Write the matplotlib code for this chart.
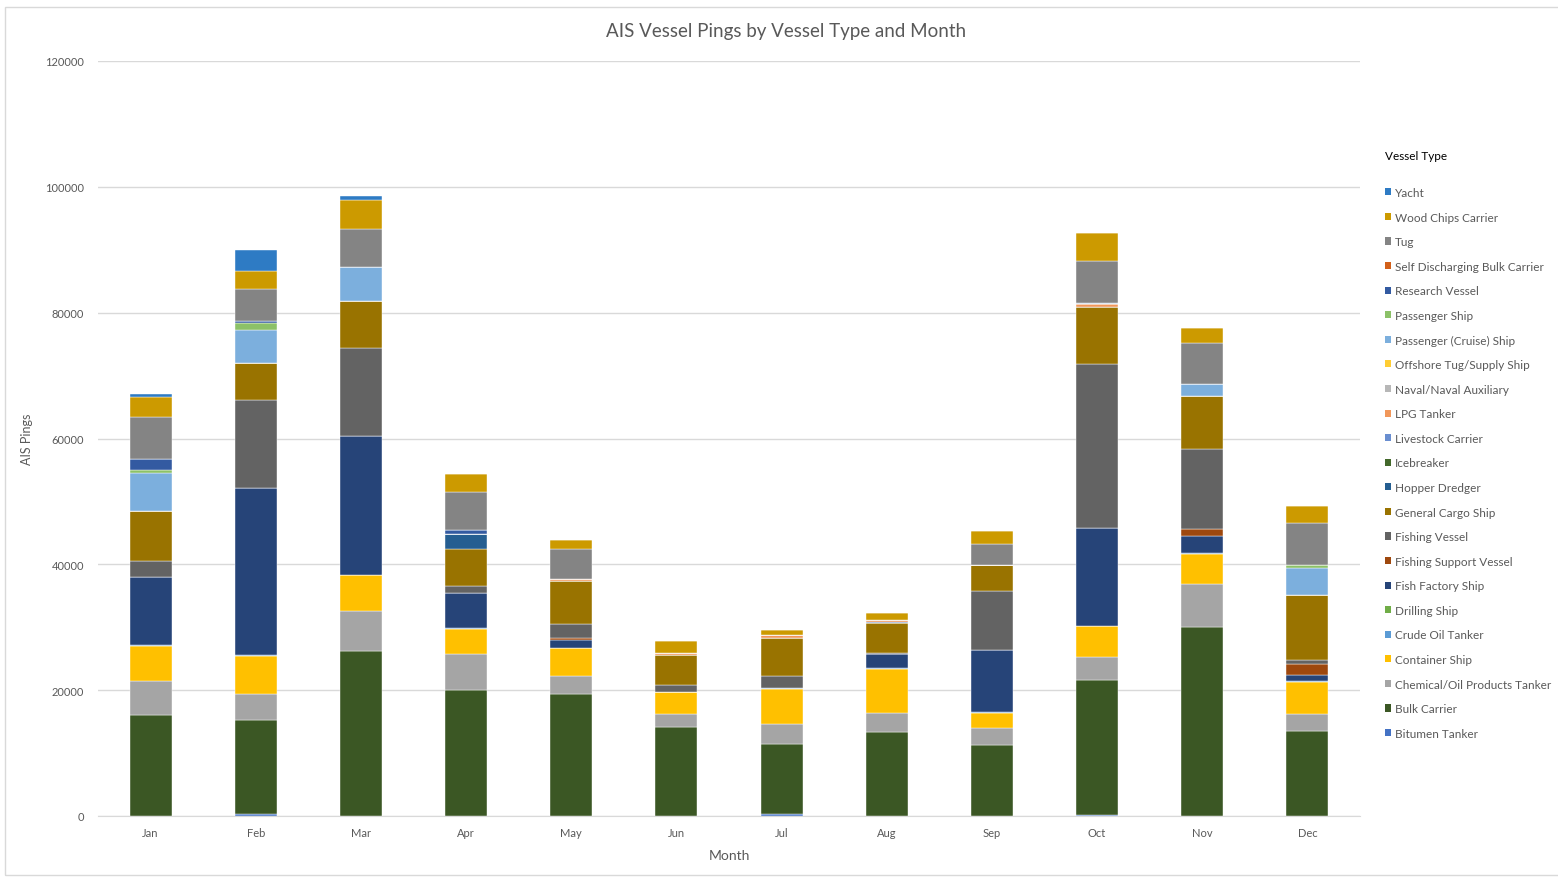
import matplotlib
matplotlib.use("Agg")
import matplotlib.pyplot as plt
from matplotlib.patches import Patch, Rectangle
import numpy as np

months = ["Jan", "Feb", "Mar", "Apr", "May", "Jun", "Jul", "Aug", "Sep", "Oct", "Nov", "Dec"]

# Series listed bottom-up in stacking order
bitumen_tanker   = [0, 370, 0, 0, 0, 0, 370, 0, 0, 210, 0, 0]
bulk_carrier     = [16100, 14840, 26280, 19990, 19450, 14150, 11080, 13400, 11340, 21470, 30100, 13460]
chemical_tanker  = [5400, 4130, 6310, 5720, 2810, 2010, 3180, 3020, 2650, 3600, 6780, 2700]
container_ship   = [5570, 6040, 5780, 3980, 4450, 3500, 5510, 6940, 2440, 4870, 4770, 5090]
crude_oil_tanker = [150, 150, 0, 200, 60, 0, 210, 100, 100, 0, 160, 160]
drilling_ship    = [0, 0, 0, 0, 0, 0, 0, 0, 0, 0, 0, 0]
fish_factory     = [10800, 26600, 22100, 5620, 1270, 0, 0, 2230, 9800, 15640, 2700, 1060]
fishing_support  = [0, 0, 0, 0, 210, 0, 0, 0, 0, 0, 1170, 1750]
fishing_vessel   = [2540, 13940, 13890, 1010, 2330, 1220, 1910, 260, 9440, 26130, 12720, 530]
general_cargo    = [7850, 5940, 7420, 5880, 6840, 4770, 6040, 4660, 4080, 9060, 8380, 10340]
hopper_dredger   = [0, 0, 0, 2490, 0, 0, 0, 0, 0, 0, 0, 0]
icebreaker       = [0, 0, 0, 0, 0, 0, 0, 0, 0, 0, 0, 0]
livestock        = [0, 0, 0, 0, 0, 0, 0, 260, 0, 0, 0, 0]
lpg_tanker       = [0, 0, 0, 0, 320, 320, 530, 260, 0, 420, 0, 0]
naval            = [0, 0, 0, 0, 0, 0, 0, 0, 0, 0, 0, 0]
offshore_tug     = [0, 0, 0, 0, 0, 0, 0, 0, 0, 0, 0, 0]
passenger_cruise = [6100, 5300, 5460, 0, 0, 0, 0, 0, 0, 210, 1960, 4350]
passenger_ship   = [530, 1110, 0, 0, 0, 0, 0, 0, 0, 0, 0, 420]
research_vessel  = [1750, 320, 0, 530, 0, 0, 0, 0, 0, 0, 0, 0]
self_discharging = [0, 0, 0, 0, 0, 0, 0, 0, 0, 0, 0, 0]
tug              = [6580, 5030, 6100, 6100, 4660, 0, 0, 0, 3440, 6570, 6360, 6730]
wood_chips       = [3180, 2810, 4560, 2760, 1540, 1860, 800, 1170, 1960, 4500, 2390, 2700]
yacht            = [530, 3450, 640, 0, 0, 0, 0, 0, 0, 0, 0, 0]

series_names = ["Bitumen Tanker", "Bulk Carrier", "Chemical/Oil Products Tanker", "Container Ship",
                "Crude Oil Tanker", "Drilling Ship", "Fish Factory Ship", "Fishing Support Vessel",
                "Fishing Vessel", "General Cargo Ship", "Hopper Dredger", "Icebreaker",
                "Livestock Carrier", "LPG Tanker", "Naval/Naval Auxiliary", "Offshore Tug/Supply Ship",
                "Passenger (Cruise) Ship", "Passenger Ship", "Research Vessel",
                "Self Discharging Bulk Carrier", "Tug", "Wood Chips Carrier", "Yacht"]
series_values = [bitumen_tanker, bulk_carrier, chemical_tanker, container_ship, crude_oil_tanker,
                 drilling_ship, fish_factory, fishing_support, fishing_vessel, general_cargo,
                 hopper_dredger, icebreaker, livestock, lpg_tanker, naval, offshore_tug,
                 passenger_cruise, passenger_ship, research_vessel, self_discharging, tug,
                 wood_chips, yacht]
series_colors = ["#4472C4", "#3B5724", "#A5A5A5", "#FFC000", "#5B9BD5", "#70AD47", "#264478",
                 "#9E480E", "#636363", "#997300", "#255E91", "#43682B", "#698ED0", "#F1975A",
                 "#B7B7B7", "#FFCD33", "#7CAFDD", "#8CC168", "#335AA1", "#D2601A", "#848484",
                 "#CC9A00", "#2E7BC4"]

plt.rcParams['font.family'] = ['Lato', 'DejaVu Sans']

fig = plt.figure(figsize=(15.58, 8.78), dpi=100)
W, H = 1558, 878
ax = fig.add_axes([98 / W, 1 - 817 / H, (1360 - 98) / W, (817 - 62) / H])

x = np.arange(len(months))
bottom = np.zeros(len(months))
for name, vals, col in zip(series_names, series_values, series_colors):
    v = np.array(vals, dtype=float)
    ax.bar(x, v, width=0.4, bottom=bottom, color=col, edgecolor="white", linewidth=0.3, label=name, zorder=3)
    bottom += v

ax.set_xlim(-0.5, len(months) - 0.5)
ax.set_ylim(0, 120000)
ax.set_yticks(np.arange(0, 120001, 20000))
ax.set_xticks(x)
ax.set_xticklabels(months)
ax.grid(axis="y", color="#D9D9D9", linewidth=1.0, zorder=0)
for s in ["top", "right", "left"]:
    ax.spines[s].set_visible(False)
ax.spines["bottom"].set_color("#D9D9D9")
ax.tick_params(axis="both", length=0, labelsize=8, colors="#595959", pad=10)
ax.tick_params(axis="x", pad=8)

ax.set_xlabel("Month", fontsize=10, color="#595959", labelpad=8)
ax.set_ylabel("AIS Pings", fontsize=9, color="#595959", labelpad=0)
ax.yaxis.set_label_coords((33 - 98) / (1360 - 98), 0.5)
fig.text(786 / W, 1 - 32 / H, "AIS Vessel Pings by Vessel Type and Month", ha="center", va="center",
         fontsize=13.5, color="#595959")

handles = [Patch(facecolor=c, edgecolor="none") for c in series_colors][::-1]
labels = series_names[::-1]
leg = fig.legend(handles, labels, loc="upper left", bbox_to_anchor=(1374 / W, 1 - 140 / H),
                 frameon=False, fontsize=8.5, title="Vessel Type", title_fontsize=8.5,
                 handlelength=0.55, handleheight=0.55, handletextpad=0.35, labelspacing=1.15,
                 alignment="left", labelcolor="#595959")
leg.get_title().set_color("#000000")
leg._legend_box.sep = 19

fig.patches.append(Rectangle((5 / W, 2 / H), 1.0, 1 - 10 / H, transform=fig.transFigure,
                             fill=False, edgecolor="#D9D9D9", linewidth=1.0))

fig.savefig("out.png", dpi=100)
